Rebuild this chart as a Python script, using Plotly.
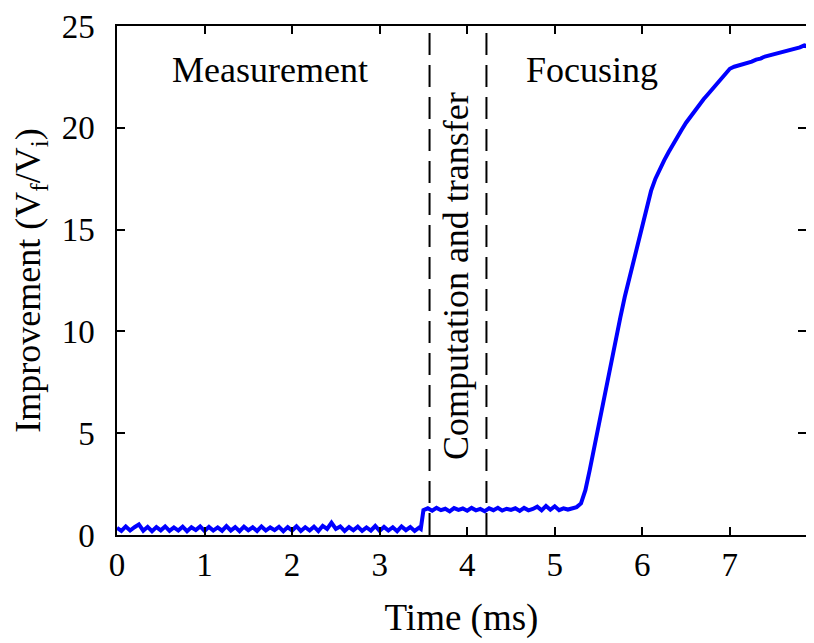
import plotly.graph_objects as go

# ---- data ----
t_meas = [0.00,0.05,0.10,0.15,0.20,0.25,0.30,0.35,0.40,0.45,
          0.50,0.55,0.60,0.65,0.70,0.75,0.80,0.85,0.90,0.95,
          1.00,1.05,1.10,1.15,1.20,1.25,1.30,1.35,1.40,1.45,
          1.50,1.55,1.60,1.65,1.70,1.75,1.80,1.85,1.90,1.95,
          2.00,2.05,2.10,2.15,2.20,2.25,2.30,2.35,2.40,2.45,
          2.50,2.55,2.60,2.65,2.70,2.75,2.80,2.85,2.90,2.95,
          3.00,3.05,3.10,3.15,3.20,3.25,3.30,3.35,3.40,3.45]
v_meas = [0.35,0.20,0.42,0.22,0.38,0.52,0.21,0.40,0.19,0.39,
          0.23,0.42,0.20,0.37,0.22,0.41,0.19,0.38,0.24,0.42,
          0.20,0.40,0.22,0.37,0.21,0.44,0.22,0.39,0.19,0.41,
          0.23,0.38,0.20,0.42,0.22,0.37,0.24,0.40,0.19,0.39,
          0.22,0.43,0.20,0.38,0.22,0.41,0.19,0.45,0.30,0.60,
          0.30,0.42,0.20,0.39,0.23,0.41,0.20,0.37,0.22,0.44,
          0.20,0.40,0.22,0.38,0.19,0.42,0.24,0.39,0.20,0.36]

t_jump = [3.47, 3.50]
v_jump = [0.30, 1.22]

t_flat = [3.55,3.60,3.65,3.70,3.75,3.80,3.85,3.90,3.95,4.00,
          4.05,4.10,4.15,4.20,4.25,4.30,4.35,4.40,4.45,4.50,
          4.55,4.60,4.65,4.70,4.75,4.80,4.85,4.90,4.95,5.00,
          5.05,5.10,5.15,5.20,5.25]
v_flat = [1.31,1.19,1.33,1.22,1.29,1.16,1.32,1.23,1.30,1.19,
          1.33,1.21,1.28,1.17,1.31,1.22,1.34,1.20,1.29,1.23,
          1.31,1.18,1.33,1.21,1.28,1.39,1.21,1.43,1.24,1.41,
          1.22,1.31,1.25,1.32,1.37]

t_rise = [5.30,5.35,5.40,5.45,5.50,5.55,5.60,5.65,5.70,5.75,
          5.80,5.85,5.90,5.95,6.00,6.05,6.10,6.15,6.20,6.25,
          6.30,6.35,6.40,6.45,6.50,6.55,6.60,6.65,6.70,6.75,
          6.80,6.85,6.90,6.95,7.00,7.05,7.10,7.15,7.20,7.25,
          7.30,7.35,7.40,7.45,7.50,7.55,7.60,7.65,7.70,7.75,
          7.80,7.85,7.88]
v_rise = [1.55,2.20,3.20,4.30,5.30,6.40,7.50,8.60,9.70,10.70,
          11.70,12.60,13.40,14.20,15.20,16.10,16.90,17.50,18.00,18.40,
          18.80,19.20,19.55,19.90,20.25,20.55,20.85,21.10,21.40,21.65,
          21.90,22.20,22.45,22.70,22.90,23.00,23.05,23.10,23.20,23.25,
          23.35,23.40,23.50,23.55,23.60,23.65,23.70,23.75,23.85,23.90,
          23.95,24.05,24.00]

phase_bounds = [3.57, 4.22]
x_ticks = [0, 1, 2, 3, 4, 5, 6, 7]
y_ticks = [0, 5, 10, 15, 20, 25]
phase_labels = ["Measurement", "Computation and transfer", "Focusing"]
phase_label_x = [1.75, 3.88, 5.43]
phase_label_y = [22.85, 12.7, 22.85]

t_all = t_meas + t_jump + t_flat + t_rise
v_all = v_meas + v_jump + v_flat + v_rise

FONT = "Liberation Serif"

fig = go.Figure()
fig.add_trace(go.Scatter(x=t_all, y=v_all, mode="lines",
                         line=dict(color="#0000FF", width=4),
                         showlegend=False, hoverinfo="skip"))

for xb in phase_bounds:
    fig.add_trace(go.Scatter(x=[xb, xb], y=[0, 25], mode="lines",
                             line=dict(color="black", width=2, dash="22px,10px"),
                             showlegend=False, hoverinfo="skip"))

for i, txt in enumerate(phase_labels):
    fig.add_annotation(x=phase_label_x[i], y=phase_label_y[i], text=txt,
                       showarrow=False, textangle=-90 if i == 1 else 0,
                       font=dict(family=FONT, size=36, color="black"),
                       xanchor="center", yanchor="middle")

axis_common = dict(showline=True, linecolor="black", linewidth=1.5, mirror="ticks",
                   ticks="inside", ticklen=8, tickwidth=1.5, tickcolor="black",
                   showgrid=False, zeroline=False, ticklabeloverflow="allow",
                   tickfont=dict(family=FONT, size=33, color="black"))

fig.update_xaxes(range=[0, 7.87], tickvals=x_ticks, ticktext=[str(v) for v in x_ticks],
                 title=dict(text="Time (ms)", font=dict(family=FONT, size=37, color="black"),
                            standoff=22),
                 **axis_common)
fig.update_yaxes(range=[0, 25], tickvals=y_ticks, ticktext=[str(v) for v in y_ticks],
                 ticklabelstandoff=14,
                 title=dict(text="Improvement (V<sub>f</sub>/V<sub>i</sub>)",
                            font=dict(family=FONT, size=36, color="black"), standoff=17),
                 **axis_common)

# the page is drawn with an 8 px offset, so the margins are shifted to compensate
fig.update_layout(width=814, height=643,
                  margin=dict(l=109, r=16, t=18, b=116, autoexpand=False),
                  paper_bgcolor="white", plot_bgcolor="white",
                  font=dict(family=FONT, color="black"))

fig.write_html("out.html")
